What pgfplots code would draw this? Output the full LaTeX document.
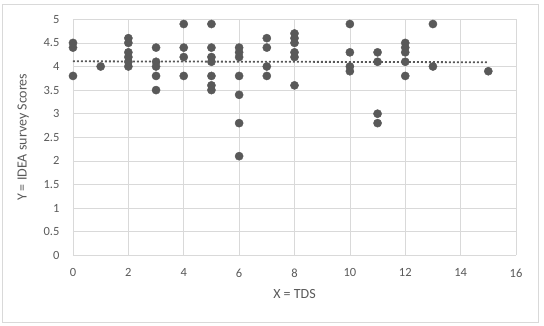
\documentclass[border=0pt]{standalone}
\usepackage{pgfplots}
\pgfplotsset{compat=1.18}
\usepackage{fontspec}
\setmainfont{Carlito}
\definecolor{txt}{HTML}{595959}
\definecolor{grd}{HTML}{D9D9D9}
\definecolor{pt}{HTML}{595959}
\begin{document}
\begin{tikzpicture}
\begin{axis}[
  scale only axis,
  width=443pt, height=236pt,
  xmin=0, xmax=16, ymin=0, ymax=5,
  xtick={0,2,...,16},
  ytick={0,0.5,...,5},
  grid=major,
  major grid style={grd, line width=0.6pt},
  axis x line*=bottom, axis y line*=left,
  axis line style={-, grd, line width=0.6pt},
  y axis line style={draw=none},
  tick style={draw=none},
  /pgf/number format/assume math mode=true,
  /pgf/number format/.cd, fixed, precision=1, /pgfplots/.cd,
  tick label style={font=\fontsize{12.5}{14}\selectfont, text=txt},
  yticklabel style={xshift=-10pt},
  xticklabel style={yshift=-10pt},
  xlabel={X = TDS}, ylabel={Y = IDEA survey Scores},
  label style={font=\fontsize{14}{16}\selectfont, text=txt},
  xlabel style={yshift=-5pt},
  ylabel style={yshift=8pt},
  clip=false,
]
\addplot[only marks, mark=*, mark size=4.1pt, mark options={fill=pt, draw=pt}] coordinates {
 (0,4.5) (0,4.4) (0,3.8)
 (1,4.0)
 (2,4.6) (2,4.5) (2,4.3) (2,4.2) (2,4.1) (2,4.0)
 (3,4.4) (3,4.1) (3,4.0) (3,3.8) (3,3.5)
 (4,4.9) (4,4.4) (4,4.2) (4,3.8)
 (5,4.9) (5,4.4) (5,4.2) (5,4.1) (5,3.8) (5,3.6) (5,3.5)
 (6,4.4) (6,4.3) (6,4.2) (6,3.8) (6,3.4) (6,2.8) (6,2.1)
 (7,4.6) (7,4.4) (7,4.0) (7,3.8)
 (8,4.7) (8,4.6) (8,4.5) (8,4.3) (8,4.2) (8,3.6)
 (10,4.9) (10,4.3) (10,4.0) (10,3.9)
 (11,4.3) (11,4.1) (11,3.0) (11,2.8)
 (12,4.5) (12,4.4) (12,4.3) (12,4.1) (12,3.8)
 (13,4.9) (13,4.0)
 (15,3.9)
};
\addplot[pt, line width=1.8pt, dash pattern=on 1.8pt off 2.2pt] coordinates {(0,4.11) (15,4.09)};
\end{axis}
\draw[grd, line width=0.8pt] ([xshift=-71pt,yshift=-67.5pt]current axis.south west) rectangle ([xshift=22pt,yshift=15.3pt]current axis.north east);
\path[use as bounding box] ([xshift=-73pt,yshift=-70.5pt]current axis.south west) rectangle ([xshift=28pt,yshift=19.3pt]current axis.north east);
\end{tikzpicture}
\end{document}
